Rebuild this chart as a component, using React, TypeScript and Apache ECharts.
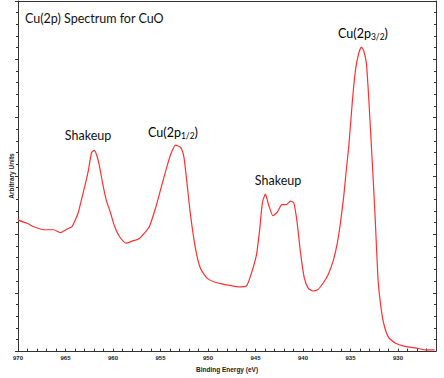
import React, { useEffect, useRef } from "react";
import * as echarts from "echarts";

// Binding energy (eV) and intensity (arbitrary units)
const energies = [970.0, 969.9, 969.03, 968.33, 967.29, 966.25, 965.55, 964.86, 964.34, 963.99, 963.65, 963.3, 962.95, 962.6, 962.26, 961.98, 961.74, 961.46, 961.11, 960.7, 960.28, 959.82, 959.3, 958.61, 957.92, 957.29, 956.7, 956.18, 955.49, 954.97, 954.45, 953.93, 953.41, 952.89, 952.53, 952.19, 951.84, 951.32, 950.8, 950.1, 949.24, 948.2, 946.8, 945.94, 945.42, 944.9, 944.55, 944.27, 943.96, 943.61, 943.16, 942.71, 942.22, 941.77, 941.32, 940.97, 940.63, 940.28, 939.86, 939.45, 938.99, 938.47, 937.95, 937.36, 936.8, 936.39, 936.04, 935.7, 935.49, 935.18, 934.82, 934.48, 934.14, 933.85, 933.61, 933.33, 933.09, 932.84, 932.64, 932.4, 932.11, 931.88, 931.53, 931.01, 930.31, 929.27, 928.05, 927.01, 926.15];
const intensities = [2.27, 2.24, 2.19, 2.13, 2.08, 2.08, 2.03, 2.09, 2.13, 2.24, 2.38, 2.61, 2.84, 3.09, 3.4, 3.44, 3.37, 3.2, 2.89, 2.58, 2.38, 2.13, 1.96, 1.85, 1.89, 1.92, 2.02, 2.13, 2.47, 2.78, 3.09, 3.37, 3.53, 3.49, 3.32, 2.84, 2.33, 1.76, 1.42, 1.25, 1.18, 1.14, 1.1, 1.12, 1.34, 1.65, 2.1, 2.55, 2.69, 2.5, 2.32, 2.38, 2.51, 2.51, 2.57, 2.54, 2.22, 1.71, 1.25, 1.08, 1.03, 1.05, 1.15, 1.31, 1.56, 1.85, 2.22, 2.67, 3.03, 3.51, 4.25, 4.81, 5.1, 5.21, 5.15, 4.93, 4.36, 3.63, 3.03, 2.27, 1.25, 0.86, 0.49, 0.24, 0.14, 0.08, 0.05, 0.02, 0.02];

const xMin = 926;
const xMax = 970;
const yMin = 0;
const yMax = 6;

const titleText = "Cu(2p) Spectrum for CuO";
const xName = "Binding Energy (eV)";
const yName = "Arbitrary Units";

export default function App() {
  const ref = useRef<HTMLDivElement>(null);
  useEffect(() => {
    if (!ref.current) return;
    const chart = echarts.init(ref.current, undefined, { renderer: "svg" });
    const axisColor = "#333";
    const labelFont = "Liberation Sans, Arial, sans-serif";
    const annFont = "Lato, 'Open Sans', sans-serif";
    const annColor = "#111";
    const rich = {
      a: { fontSize: 12.5, fontFamily: annFont, color: annColor, lineHeight: 14, verticalAlign: "top" },
      s: { fontSize: 8.5, fontFamily: annFont, color: annColor, padding: [6, 0, 0, 0], verticalAlign: "top" },
    };
    chart.setOption({
      animation: false,
      backgroundColor: "#fff",
      grid: { left: 14, right: 8, top: 1, bottom: 24 },
      xAxis: [
        {
          type: "value",
          min: xMin,
          max: xMax,
          interval: 1,
          inverse: true,
          position: "bottom",
          axisLine: { show: true, onZero: false, lineStyle: { color: axisColor, width: 1 } },
          axisTick: { show: true, inside: true, length: 2.5, lineStyle: { color: axisColor } },
          axisLabel: {
            formatter: (v: number) => (Math.round(v) % 5 === 0 ? String(Math.round(v)) : ""),
            fontSize: 6,
            fontWeight: "bold",
            fontFamily: labelFont,
            color: "#222",
            margin: 4,
          },
          splitLine: { show: false },
          name: xName,
          nameLocation: "middle",
          nameGap: 13,
          nameTextStyle: { fontSize: 6.5, fontWeight: "bold", fontFamily: labelFont, color: "#222" },
        },
        {
          type: "value",
          min: xMin,
          max: xMax,
          inverse: true,
          position: "top",
          axisLine: { show: true, onZero: false, lineStyle: { color: axisColor, width: 1 } },
          axisTick: { show: false },
          axisLabel: { show: false },
          splitLine: { show: false },
        },
      ],
      yAxis: [
        {
          type: "value",
          min: yMin,
          max: yMax,
          interval: 1,
          position: "left",
          axisLine: { show: true, onZero: false, lineStyle: { color: axisColor, width: 1 } },
          axisTick: { show: true, inside: false, length: 3, lineStyle: { color: axisColor } },
          minorTick: { show: true, splitNumber: 5, length: 2, lineStyle: { color: axisColor } },
          axisLabel: { show: false },
          splitLine: { show: false },
          minorSplitLine: { show: false },
          name: yName,
          nameLocation: "middle",
          nameGap: 3,
          nameRotate: 90,
          nameTextStyle: { fontSize: 6.5, fontWeight: "bold", fontFamily: labelFont, color: "#222" },
        },
        {
          type: "value",
          min: yMin,
          max: yMax,
          interval: 1,
          position: "right",
          axisLine: { show: true, onZero: false, lineStyle: { color: axisColor, width: 1 } },
          axisTick: { show: true, inside: true, length: 3, lineStyle: { color: axisColor } },
          minorTick: { show: true, splitNumber: 5, length: 2, lineStyle: { color: axisColor } },
          axisLabel: { show: false },
          splitLine: { show: false },
          minorSplitLine: { show: false },
        },
      ],
      series: [
        {
          type: "line",
          xAxisIndex: 0,
          yAxisIndex: 0,
          data: energies.map((e, i) => [e, intensities[i]]),
          showSymbol: false,
          smooth: 0.2,
          lineStyle: { color: "#ff3030", width: 1.2 },
        },
      ],
      graphic: [
        {
          type: "text",
          left: 25,
          top: 12,
          style: { text: titleText, fontSize: 12.5, fontFamily: annFont, fill: annColor },
        },
        {
          type: "text",
          x: 88,
          y: 135,
          style: { text: "Shakeup", fontSize: 12.5, fontFamily: annFont, fill: annColor, textAlign: "center", textVerticalAlign: "middle" },
        },
        {
          type: "text",
          x: 173,
          y: 133,
          style: { text: "{a|Cu(2p}{s|1/2}{a|)}", rich, textAlign: "center", textVerticalAlign: "middle" },
        },
        {
          type: "text",
          x: 278,
          y: 180,
          style: { text: "Shakeup", fontSize: 12.5, fontFamily: annFont, fill: annColor, textAlign: "center", textVerticalAlign: "middle" },
        },
        {
          type: "text",
          x: 363,
          y: 34,
          style: { text: "{a|Cu(2p}{s|3/2}{a|)}", rich, textAlign: "center", textVerticalAlign: "middle" },
        },
      ],
    });
    return () => chart.dispose();
  }, []);
  return <div ref={ref} style={{ position: "absolute", left: 0, top: 0, width: 444, height: 378 }} />;
}
